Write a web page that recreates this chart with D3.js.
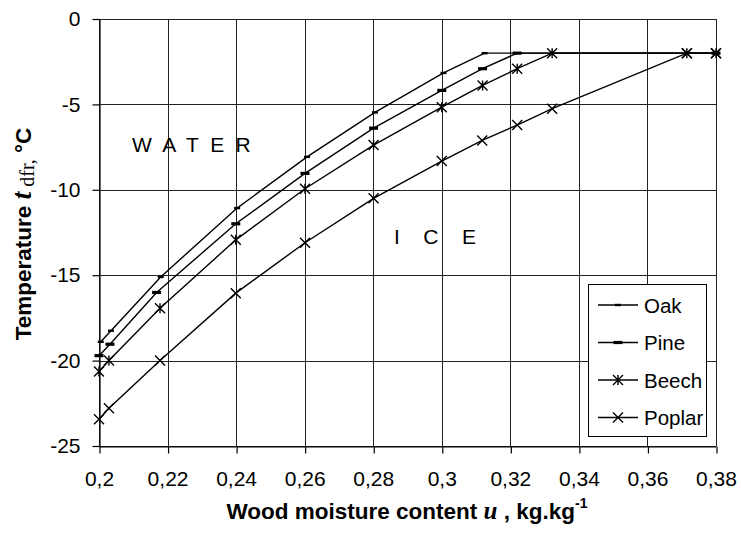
<!DOCTYPE html>
<html>
<head>
<meta charset="utf-8">
<script src="https://cdn.jsdelivr.net/npm/d3@7/dist/d3.min.js"></script>
<style>
  html, body { margin: 0; padding: 0; background: #fff; }
  svg { display: block; }
  text { font-family: "Liberation Sans", Arial, sans-serif; fill: #000; }
</style>
</head>
<body>
<svg id="chart" width="741" height="535"></svg>
<script>
// ---- data ----
const seriesNames = ["Oak", "Pine", "Beech", "Poplar"];

const oakU = [0.2005, 0.2035, 0.218, 0.2403, 0.2607, 0.2805, 0.3005, 0.3125, 0.38];
const oakT = [-18.9, -18.25, -15.1, -11.07, -8.07, -5.47, -3.16, -2.0, -2.0];

const pineU = [0.2, 0.2032, 0.2168, 0.2399, 0.2601, 0.2801, 0.300, 0.3119, 0.322, 0.38];
const pineT = [-19.71, -19.04, -16.01, -11.99, -9.04, -6.39, -4.18, -2.91, -2.0, -2.0];

const beechU = [0.2, 0.2029, 0.2178, 0.2399, 0.2601, 0.2801, 0.300, 0.3119, 0.322, 0.3322, 0.3715, 0.38];
const beechT = [-20.64, -20.0, -16.93, -12.93, -9.94, -7.38, -5.16, -3.89, -2.91, -2.0, -2.0, -2.0];

const poplarU = [0.2, 0.2029, 0.2178, 0.2399, 0.2601, 0.2801, 0.300, 0.3118, 0.322, 0.3322, 0.3715, 0.38];
const poplarT = [-23.43, -22.79, -20.0, -16.05, -13.1, -10.5, -8.32, -7.11, -6.21, -5.25, -2.0, -2.0];

const xTickValues = [0.2, 0.22, 0.24, 0.26, 0.28, 0.3, 0.32, 0.34, 0.36, 0.38];
const xTickLabels = ["0,2", "0,22", "0,24", "0,26", "0,28", "0,3", "0,32", "0,34", "0,36", "0,38"];
const yTickValues = [0, -5, -10, -15, -20, -25];
const yTickLabels = ["0", "-5", "-10", "-15", "-20", "-25"];

// ---- setup ----
const svg = d3.select("#chart");
const pL = 99, pR = 716, pT = 19, pB = 446;
const x = d3.scaleLinear().domain([0.2, 0.38]).range([pL, pR]);
const y = d3.scaleLinear().domain([-25, 0]).range([pB, pT]);

const series = [
  { name: seriesNames[0], u: oakU, t: oakT, marker: "dashS" },
  { name: seriesNames[1], u: pineU, t: pineT, marker: "dashL" },
  { name: seriesNames[2], u: beechU, t: beechT, marker: "star" },
  { name: seriesNames[3], u: poplarU, t: poplarT, marker: "x" }
];

// grid
const grid = svg.append("g").attr("shape-rendering", "crispEdges");
xTickValues.forEach(v => {
  grid.append("line")
    .attr("x1", Math.round(x(v)) + 0.5).attr("x2", Math.round(x(v)) + 0.5)
    .attr("y1", pT).attr("y2", pB)
    .attr("stroke", "#222").attr("stroke-width", 1);
});
yTickValues.forEach(v => {
  grid.append("line")
    .attr("x1", pL).attr("x2", pR)
    .attr("y1", Math.round(y(v)) + 0.5).attr("y2", Math.round(y(v)) + 0.5)
    .attr("stroke", "#222").attr("stroke-width", 1);
});

// axes
const xAxis = d3.axisBottom(x).tickValues(xTickValues)
  .tickFormat((d, i) => xTickLabels[i]).tickSize(7).tickSizeOuter(0).tickPadding(18);
const yAxis = d3.axisLeft(y).tickValues(yTickValues)
  .tickFormat((d, i) => yTickLabels[i]).tickSize(7).tickSizeOuter(0).tickPadding(12);

const gx = svg.append("g").attr("transform", `translate(0,${Math.round(pB) + 0.5})`).call(xAxis);
const gy = svg.append("g").attr("transform", `translate(${pL + 0.5},0)`).call(yAxis);
[gx, gy].forEach(g => {
  g.select(".domain").attr("stroke", "#000").attr("stroke-width", 1.2);
  g.selectAll(".tick line").attr("stroke", "#000").attr("stroke-width", 1.2);
  g.selectAll(".tick text")
    .attr("font-family", "Liberation Sans, Arial, sans-serif")
    .attr("font-size", 21).attr("fill", "#000");
});
gx.selectAll(".tick line").attr("x1", 0.5).attr("x2", 0.5);

// lines
const line = d3.line().x(d => x(d[0])).y(d => y(d[1]));
const gLines = svg.append("g");
series.forEach(s => {
  const pts = s.u.map((u, i) => [u, s.t[i]]);
  gLines.append("path").datum(pts)
    .attr("d", line).attr("fill", "none")
    .attr("stroke", "#000").attr("stroke-width", 1.4);
});

function drawMarker(g, type, cx, cy) {
  if (type === "dashS") {
    g.append("rect").attr("x", cx - 3).attr("y", cy - 1.2).attr("width", 6).attr("height", 2.4).attr("fill", "#000");
  } else if (type === "dashL") {
    g.append("rect").attr("x", cx - 4.5).attr("y", cy - 1.6).attr("width", 9).attr("height", 3.2).attr("fill", "#000");
  } else if (type === "x" || type === "star") {
    const r = 5;
    const p = `M${cx - r},${cy - r}L${cx + r},${cy + r}M${cx - r},${cy + r}L${cx + r},${cy - r}` +
      (type === "star" ? `M${cx},${cy - r}L${cx},${cy + r}` : "");
    g.append("path").attr("d", p).attr("stroke", "#000").attr("stroke-width", 1.4).attr("fill", "none");
  }
}

// markers
const gMarks = svg.append("g");
series.forEach(s => {
  s.u.forEach((u, i) => drawMarker(gMarks, s.marker, x(u), y(s.t[i])));
});

// region labels
svg.append("text").attr("x", 132).attr("y", 152)
  .attr("font-size", 21).attr("letter-spacing", "11.3px").text("WATER");
svg.append("text").attr("x", 394).attr("y", 244)
  .attr("font-size", 21).attr("letter-spacing", "23.5px").text("ICE");

// legend
const lg = svg.append("g");
lg.append("rect").attr("x", 588.5).attr("y", 284.5).attr("width", 118).attr("height", 152)
  .attr("fill", "#fff").attr("stroke", "#000").attr("stroke-width", 1);
series.forEach((s, i) => {
  const ly = 305 + i * 37.5;
  lg.append("line").attr("x1", 598).attr("x2", 638).attr("y1", ly).attr("y2", ly)
    .attr("stroke", "#000").attr("stroke-width", 1.4);
  drawMarker(lg, s.marker, 618, ly);
  lg.append("text").attr("x", 644).attr("y", ly + 7.5).attr("font-size", 20.5).text(s.name);
});

// x title
const xt = svg.append("text").attr("x", 407).attr("y", 519).attr("text-anchor", "middle")
  .attr("font-size", 22.5).attr("font-weight", "bold");
xt.append("tspan").text("Wood moisture content ");
xt.append("tspan").attr("font-family", "Liberation Serif, Times New Roman, serif")
  .attr("font-style", "italic").attr("font-size", 25).text("u");
xt.append("tspan").text(" , kg.kg");
xt.append("tspan").attr("font-size", 14).attr("dy", -11).text("-1");

// y title
const yt = svg.append("text").attr("transform", "translate(31,234) rotate(-90)")
  .attr("text-anchor", "middle").attr("font-size", 22.5).attr("font-weight", "bold");
yt.append("tspan").text("Temperature ");
yt.append("tspan").attr("font-family", "Liberation Serif, Times New Roman, serif")
  .attr("font-style", "italic").attr("font-size", 28).text("t");
yt.append("tspan").attr("font-family", "Liberation Serif, Times New Roman, serif")
  .attr("font-weight", "normal").attr("font-size", 20).attr("dy", 3).text(" dfr,");
yt.append("tspan").attr("dy", -3).text(" °C");
</script>
</body>
</html>
